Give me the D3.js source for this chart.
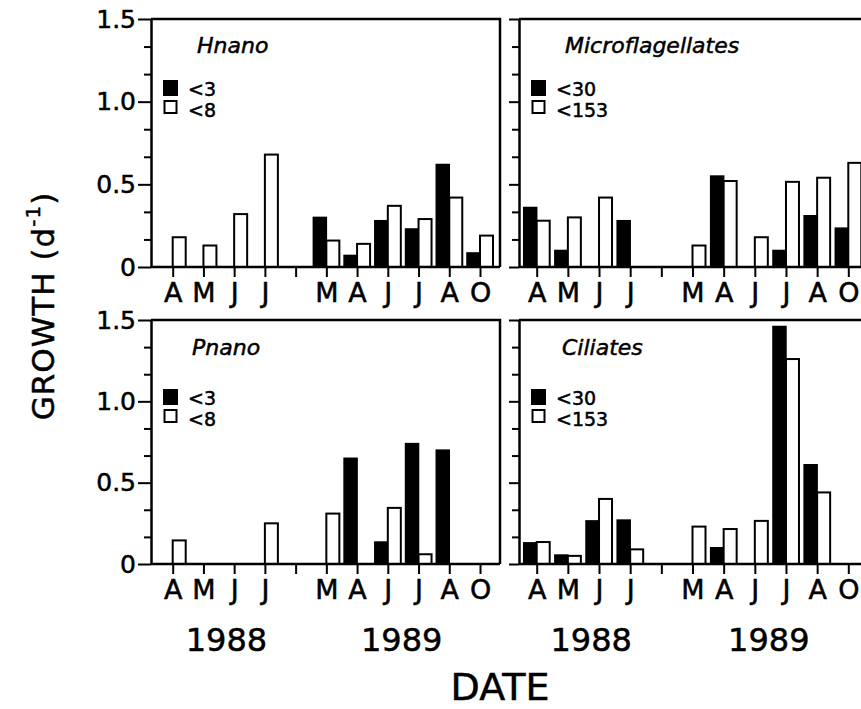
<!DOCTYPE html>
<html>
<head>
<meta charset="utf-8">
<script src="https://cdn.jsdelivr.net/npm/d3@7/dist/d3.min.js"></script>
<style>
  html, body { margin: 0; padding: 0; background: #fff; }
  svg { display: block; }
  text { font-family: "DejaVu Sans", sans-serif; fill: #000; stroke: #000; stroke-width: 0.5px; }
</style>
</head>
<body>
<script>
// ---- data ----
const months = ["A", "M", "J", "J", "", "M", "A", "J", "J", "A", "O"];
const years = ["1988", "1989"];
const yTickValues = [0, 0.5, 1.0, 1.5];
const yTickLabels = ["0", "0.5", "1.0", "1.5"];

// Hnano  (<3 black, <8 white)
const hnanoSmall = [null, null, null, null, null, 0.30, 0.07, 0.28, 0.23, 0.62, 0.085];
const hnanoLarge = [0.18, 0.13, 0.32, 0.68, null, 0.16, 0.14, 0.37, 0.29, 0.42, 0.19];
// Microflagellates (<30 black, <153 white)
const microSmall = [0.36, 0.10, null, 0.28, null, null, 0.55, null, 0.10, 0.31, 0.235];
const microLarge = [0.28, 0.30, 0.42, null, null, 0.13, 0.52, 0.18, 0.515, 0.54, 0.63];
// Pnano (<3 black, <8 white)
const pnanoSmall = [null, null, null, null, null, null, 0.65, 0.135, 0.74, 0.70, null];
const pnanoLarge = [0.145, null, null, 0.25, null, 0.31, null, 0.345, 0.06, null, null];
// Ciliates (<30 black, <153 white)
const ciliatesSmall = [0.13, 0.055, 0.265, 0.27, null, null, 0.10, null, 1.46, 0.61, null];
const ciliatesLarge = [0.135, 0.05, 0.40, 0.09, null, 0.23, 0.215, 0.265, 1.26, 0.44, null];

const nanoLegend = ["<3", "<8"];
const microLegend = ["<30", "<153"];

// ---- layout ----
const W = 861, H = 709;
const panels = [
  { title: "Hnano", small: hnanoSmall, large: hnanoLarge, legend: nanoLegend,
    xa: 151, xr: 500, yt: 19, yb: 267, t0: 172.7, t10: 480, labels: true,
    major: 13, legY: 80, tx: 197, ty: 53 },
  { title: "Microflagellates", small: microSmall, large: microLarge, legend: microLegend,
    xa: 519, xr: 868, yt: 19, yb: 267, t0: 536.7, t10: 848.3, labels: false,
    major: 10, legY: 80, tx: 565, ty: 53 },
  { title: "Pnano", small: pnanoSmall, large: pnanoLarge, legend: nanoLegend,
    xa: 151, xr: 500, yt: 320, yb: 564, t0: 172.7, t10: 480, labels: true,
    major: 13, legY: 389, tx: 192, ty: 355 },
  { title: "Ciliates", small: ciliatesSmall, large: ciliatesLarge, legend: microLegend,
    xa: 519, xr: 868, yt: 320, yb: 564, t0: 536.7, t10: 848.3, labels: false,
    major: 10, legY: 389, tx: 562, ty: 355 }
];

const svg = d3.select("body").append("svg").attr("width", W).attr("height", H);

const minorVals = d3.range(0, 10).map(k => k / 6).filter(v => Math.abs(v * 2 - Math.round(v * 2)) > 1e-6);
const barW = 13;

panels.forEach((p, pi) => {
  const x = d3.scaleLinear().domain([0, 10]).range([p.t0, p.t10]);
  const y = d3.scaleLinear().domain([0, 1.5]).range([p.yb, p.yt]);
  const g = svg.append("g");

  // bars: black (small fraction) left of tick, white (large fraction) right of tick
  const blk = p.small.map((v, i) => ({ v, i })).filter(d => d.v != null);
  const wht = p.large.map((v, i) => ({ v, i })).filter(d => d.v != null);
  g.selectAll("rect.blk").data(blk).join("rect").attr("class", "blk")
    .attr("x", d => x(d.i) - barW).attr("width", barW)
    .attr("y", d => y(d.v)).attr("height", d => y(0) - y(d.v))
    .attr("fill", "#000").attr("stroke", "#000").attr("stroke-width", 1.5);
  g.selectAll("rect.wht").data(wht).join("rect").attr("class", "wht")
    .attr("x", d => x(d.i)).attr("width", barW)
    .attr("y", d => y(d.v)).attr("height", d => y(0) - y(d.v))
    .attr("fill", "#fff").attr("stroke", "#000").attr("stroke-width", 2);

  // frame (top and right)
  g.append("path")
    .attr("d", `M${p.xa},${y(1.5)}H${p.xr}V${y(0)}`)
    .attr("fill", "none").attr("stroke", "#000").attr("stroke-width", 2.5);

  // y axis (major)
  const ya = g.append("g").attr("transform", `translate(${p.xa},0)`)
    .call(d3.axisLeft(y).tickValues(yTickValues).tickSize(p.major).tickSizeOuter(0).tickPadding(2)
      .tickFormat((d, i) => p.labels ? yTickLabels[i] : ""));
  ya.select(".domain").attr("stroke-width", 2.5);
  ya.selectAll(".tick line").attr("stroke-width", 2);
  ya.selectAll(".tick text").attr("font-size", 25).attr("font-family", "DejaVu Sans");
  // y axis (minor)
  const ym = g.append("g").attr("transform", `translate(${p.xa},0)`)
    .call(d3.axisLeft(y).tickValues(minorVals).tickSize(7).tickSizeOuter(0).tickFormat(""));
  ym.select(".domain").remove();
  ym.selectAll(".tick line").attr("stroke-width", 2);

  // x axis
  g.append("line").attr("x1", p.xa).attr("x2", p.xr).attr("y1", y(0)).attr("y2", y(0))
    .attr("stroke", "#000").attr("stroke-width", 2.5);
  const xa = g.append("g").attr("transform", `translate(0,${y(0)})`)
    .call(d3.axisBottom(x).tickValues(d3.range(11)).tickSize(10).tickSizeOuter(0).tickPadding(6)
      .tickFormat(i => months[i]));
  xa.select(".domain").remove();
  xa.selectAll(".tick line").attr("stroke-width", 2);
  xa.selectAll(".tick text").attr("font-size", 27).attr("font-family", "DejaVu Sans");

  // year labels under the bottom panels
  if (pi >= 2) {
    [1.75, 7.45].forEach((pos, k) => {
      svg.append("text").attr("x", x(pos)).attr("y", 651)
        .attr("text-anchor", "middle").attr("font-size", 32).text(years[k]);
    });
  }

  // title
  g.append("text").attr("x", p.tx).attr("y", p.ty)
    .attr("font-size", 22).attr("font-style", "italic").text(p.title);

  // legend
  const lx = p.xa + 12;
  g.append("rect").attr("x", lx).attr("y", p.legY).attr("width", 15).attr("height", 16)
    .attr("fill", "#000");
  g.append("rect").attr("x", lx + 1.5).attr("y", p.legY + 21).attr("width", 12).attr("height", 12)
    .attr("fill", "#fff").attr("stroke", "#000").attr("stroke-width", 2);
  g.append("text").attr("x", lx + 25).attr("y", p.legY + 16).attr("font-size", 19).text(p.legend[0]);
  g.append("text").attr("x", lx + 25).attr("y", p.legY + 37).attr("font-size", 19).text(p.legend[1]);
});

// axis titles
const yl = svg.append("text")
  .attr("transform", "translate(54,306) rotate(-90)")
  .attr("text-anchor", "middle").attr("font-size", 31).attr("letter-spacing", 1);
yl.append("tspan").text("GROWTH (d");
yl.append("tspan").attr("font-size", 20).attr("dy", -14).text("-1");
yl.append("tspan").attr("dy", 14).text(")");

svg.append("text").attr("x", 500).attr("y", 700).attr("text-anchor", "middle")
  .attr("font-size", 38).text("DATE");
</script>
</body>
</html>
